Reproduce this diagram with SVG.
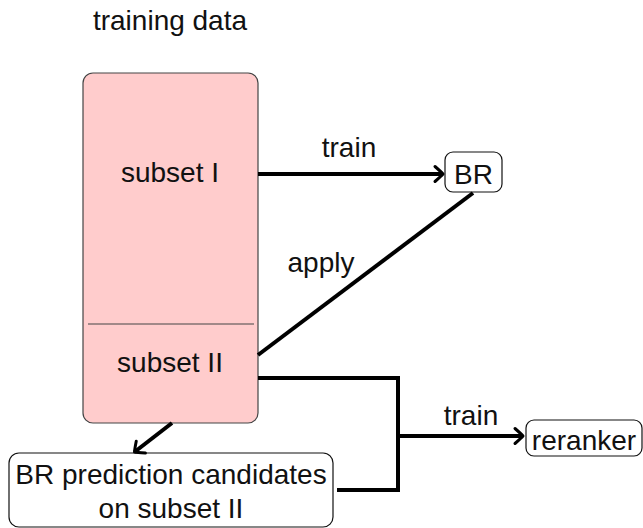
<svg xmlns="http://www.w3.org/2000/svg" width="643" height="528" viewBox="0 0 643 528">
  <style>
    text { font-family: "Liberation Sans", Arial, sans-serif; font-size: 28px; fill: #111; text-anchor: middle; }
    .box { fill: #ffffff; stroke: #111; stroke-width: 1.2; }
    .data { fill: #ffcccc; stroke: #444; stroke-width: 1.2; }
    .edge { fill: none; stroke: #000; stroke-width: 4; }
  </style>
  <defs>
    <marker id="to" markerUnits="userSpaceOnUse" viewBox="-12 -10 14 20" markerWidth="14" markerHeight="20" refX="0" refY="0" orient="auto">
      <path d="M-8,-7.5 Q-1.5,-1.8 0,0 Q-1.5,1.8 -8,7.5" fill="none" stroke="#000" stroke-width="3" stroke-linecap="round" stroke-linejoin="round"/>
    </marker>
  </defs>

  <rect width="643" height="528" fill="#ffffff"/>

  <!-- training data block with its two subsets -->
  <g id="training-data">
    <text x="170" y="30">training data</text>
    <rect class="data" x="83" y="73" width="175" height="350" rx="10"/>
    <line x1="88" y1="324" x2="254" y2="324" stroke="#444" stroke-width="1.2"/>
  </g>
  <g id="subset-1">
    <text x="170" y="182">subset I</text>
  </g>
  <g id="subset-2">
    <text x="170" y="372">subset II</text>
  </g>

  <g id="br">
    <rect class="box" x="445" y="152" width="57" height="40" rx="8"/>
    <text x="473.5" y="184">BR</text>
  </g>

  <g id="reranker">
    <rect class="box" x="526" y="420" width="116" height="36" rx="8"/>
    <text x="584" y="450">reranker</text>
  </g>

  <g id="candidates">
    <rect class="box" x="9" y="453" width="324" height="74" rx="10"/>
    <text x="171" y="484">BR prediction candidates</text>
    <text x="171" y="518">on subset II</text>
  </g>

  <!-- connectors -->
  <g id="connectors">
    <path class="edge" d="M258,174 H443" marker-end="url(#to)"/>
    <text x="349" y="157">train</text>
    <path class="edge" d="M473,193 L258,355"/>
    <text x="321" y="272">apply</text>
    <path class="edge" d="M172,423 L134.5,452" marker-end="url(#to)"/>
    <path class="edge" d="M258,378 H398 V490 H337"/>
    <path class="edge" d="M398,436 H523" marker-end="url(#to)"/>
    <text x="471" y="425">train</text>
  </g>
</svg>
